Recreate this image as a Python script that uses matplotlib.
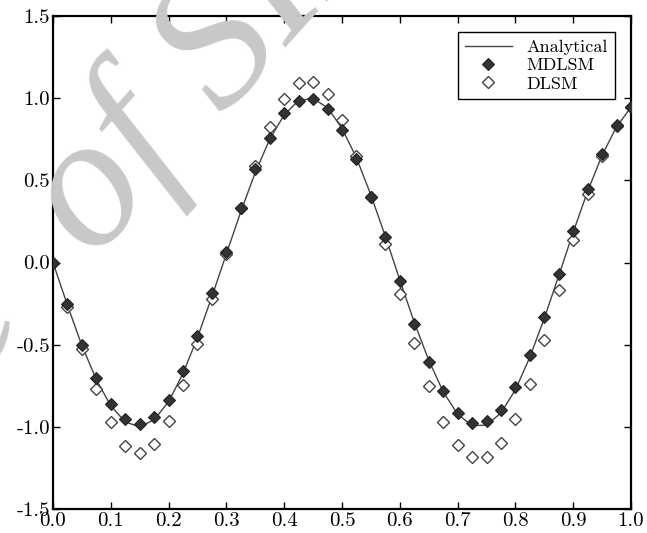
import matplotlib
matplotlib.use('Agg')
import matplotlib.pyplot as plt

# sample positions
x = [0.0, 0.025, 0.05, 0.075, 0.1, 0.125, 0.15, 0.175, 0.2, 0.225,
     0.25, 0.275, 0.3, 0.325, 0.35, 0.375, 0.4, 0.425, 0.45, 0.475,
     0.5, 0.525, 0.55, 0.575, 0.6, 0.625, 0.65, 0.675, 0.7, 0.725,
     0.75, 0.775, 0.8, 0.825, 0.85, 0.875, 0.9, 0.925, 0.95, 0.975, 1.0]

analytical = [0.0, -0.26, -0.505, -0.713, -0.872, -0.97, -1.0, -0.957, -0.847, -0.675,
              -0.456, -0.207, 0.053, 0.31, 0.548, 0.75, 0.899, 0.986, 0.998, 0.942,
              0.816, 0.637, 0.41, 0.159, -0.106, -0.364, -0.594, -0.786, -0.923, -0.992,
              -0.99, -0.915, -0.774, -0.576, -0.339, -0.08, 0.185, 0.434, 0.653, 0.826, 0.945]

mdlsm = [0.0, -0.253, -0.502, -0.70, -0.863, -0.955, -0.985, -0.938, -0.837, -0.66,
         -0.447, -0.188, 0.066, 0.334, 0.567, 0.76, 0.908, 0.985, 0.995, 0.934,
         0.806, 0.632, 0.40, 0.153, -0.113, -0.376, -0.604, -0.782, -0.918, -0.975,
         -0.967, -0.898, -0.76, -0.563, -0.33, -0.07, 0.194, 0.445, 0.66, 0.837, 0.948]

dlsm = [0.0, -0.269, -0.528, -0.772, -0.969, -1.115, -1.158, -1.105, -0.963, -0.746,
        -0.498, -0.224, 0.05, 0.33, 0.587, 0.827, 0.995, 1.094, 1.10, 1.025,
        0.867, 0.648, 0.40, 0.11, -0.194, -0.488, -0.752, -0.969, -1.111, -1.182,
        -1.182, -1.097, -0.955, -0.74, -0.472, -0.17, 0.137, 0.417, 0.65, 0.83, 0.948]

plt.rcParams['font.family'] = 'cmr10'
plt.rcParams['mathtext.fontset'] = 'cm'
plt.rcParams['axes.unicode_minus'] = False

fig = plt.figure(figsize=(6.47, 5.33), dpi=100)
ax = fig.add_axes([0.0819, 0.045, 0.8934, 0.925])

# watermark "Archive of SID"
wm = dict(fontsize=136, family=['Liberation Serif', 'DejaVu Serif'], style='italic',
          color='#c8c8c8', rotation=48, rotation_mode='anchor', va='baseline', zorder=0)
fig.text(0.144, 0.5107, 'of SID', ha='left', **wm)
fig.text(0.0974, 0.4484, 'Archive ', ha='right', **wm)
ax.patch.set_alpha(0)

ax.plot(x, analytical, '-', color='#444444', lw=1.0, label='Analytical', zorder=2)
ax.plot(x, mdlsm, 'D', ms=6.5, mfc='#333333', mec='#222222', mew=0.8,
        label='MDLSM', zorder=3)
ax.plot(x, dlsm, 'D', ms=6.5, mfc='white', mec='#444444', mew=1.0,
        label='DLSM', zorder=2.5)

ax.set_xlim(0, 1)
ax.set_ylim(-1.5, 1.5)
ax.set_xticks([0.0, 0.1, 0.2, 0.3, 0.4, 0.5, 0.6, 0.7, 0.8, 0.9, 1.0])
ax.set_yticks([-1.5, -1.0, -0.5, 0.0, 0.5, 1.0, 1.5])
ax.tick_params(direction='in', top=True, right=True, length=5, width=1,
               labelsize=15, pad=2)
for s in ax.spines.values():
    s.set_linewidth(1.6)

leg = ax.legend(loc='upper right', fontsize=13, frameon=True, fancybox=False,
                edgecolor='black', framealpha=1, borderpad=0.4,
                handlelength=2.6, labelspacing=0.15, borderaxespad=0.9)
leg.get_frame().set_linewidth(1.0)

fig.savefig('out.png', dpi=100)
